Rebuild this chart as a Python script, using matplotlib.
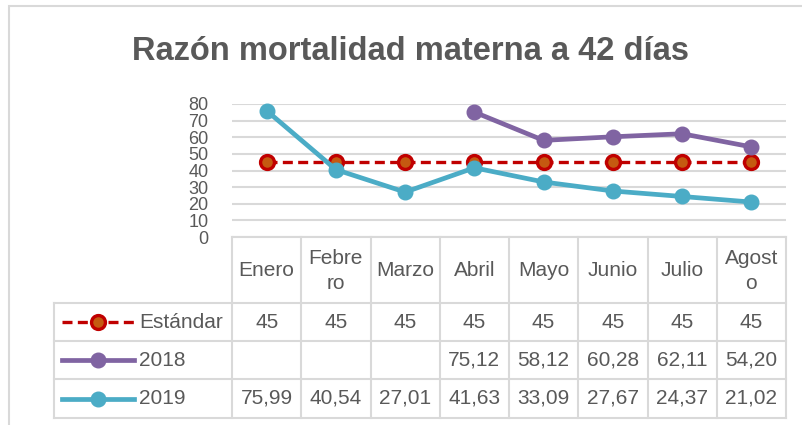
import matplotlib.pyplot as plt
import numpy as np
from matplotlib.lines import Line2D
from matplotlib.patches import Rectangle

plt.rcParams['font.family'] = ['Liberation Sans', 'DejaVu Sans']

months = ["Enero", "Febrero", "Marzo", "Abril", "Mayo", "Junio", "Julio", "Agosto"]
month_labels = ["Enero", "Febre\nro", "Marzo", "Abril", "Mayo", "Junio", "Julio", "Agost\no"]
estandar = [45, 45, 45, 45, 45, 45, 45, 45]
serie_2018 = [np.nan, np.nan, np.nan, 75.12, 58.12, 60.28, 62.11, 54.20]
serie_2019 = [75.99, 40.54, 27.01, 41.63, 33.09, 27.67, 24.37, 21.02]
y_ticks = [0, 10, 20, 30, 40, 50, 60, 70, 80]

txt = "#595959"
grid = "#d9d9d9"
W, H = 803, 425

def fx(px):
    return px / W

def fy(py):
    return 1 - py / H

fig = plt.figure(figsize=(W / 100, H / 100), dpi=100)

# chart frame (only top and left edges are visible in the crop)
fig.patches.append(Rectangle((fx(9), fy(440)), 1, fy(6) - fy(440), transform=fig.transFigure,
                             fill=False, edgecolor=grid, linewidth=1.5))

fig.text(fx(410), fy(51), "Razón mortalidad materna a 42 días", ha="center", va="center",
         fontsize=23.5, fontweight="bold", color=txt)

styles = {
    "Estándar": dict(color="#c00000", linestyle=(0, (3, 1.6)), linewidth=2.4, marker="o",
                     markersize=10, markerfacecolor="#c55a11", markeredgecolor="#c00000",
                     markeredgewidth=2.4),
    "2018": dict(color="#8064a2", linewidth=3.4, marker="o", markersize=10.5),
    "2019": dict(color="#4bacc6", linewidth=3.4, marker="o", markersize=10.5),
}
series = {"Estándar": estandar, "2018": serie_2018, "2019": serie_2019}

x = np.arange(len(months))
ax = fig.add_axes([fx(232), fy(237), fx(786) - fx(232), fy(104) - fy(237)])
for name in ["Estándar", "2018", "2019"]:
    ax.plot(x, series[name], **styles[name], clip_on=False, zorder=3)
ax.set_xlim(-0.5, len(months) - 0.5)
ax.set_ylim(0, 80)
ax.set_yticks(y_ticks)
ax.set_xticks([])
ax.yaxis.grid(True, color=grid, linewidth=1.5)
ax.set_axisbelow(True)
for s in ax.spines.values():
    s.set_visible(False)
ax.tick_params(axis="y", length=0, labelsize=13, labelcolor=txt, pad=17)

# data table below the plot
col_w = (786 - 232) / len(months)
left_units = (232 - 54) / col_w
tax = fig.add_axes([fx(54), fy(418), fx(786) - fx(54), fy(237) - fy(418)])
tax.set_xlim(-0.5 - left_units, len(months) - 0.5)
tax.set_ylim(418, 237)
tax.axis("off")
rows = [237, 303, 341, 379, 418]
x0 = -0.5 - left_units
xe = len(months) - 0.5
for r in rows[1:]:
    tax.plot([x0, xe], [r, r], color=grid, lw=1.5, clip_on=False)
tax.plot([-0.5, xe], [rows[0], rows[0]], color=grid, lw=1.5, clip_on=False)
tax.plot([x0, x0], [rows[1], rows[-1]], color=grid, lw=1.5, clip_on=False)
for i in range(len(months) + 1):
    tax.plot([i - 0.5, i - 0.5], [rows[0], rows[-1]], color=grid, lw=1.5, clip_on=False)

for i, lab in enumerate(month_labels):
    tax.text(i, (rows[0] + rows[1]) / 2 + 1, lab, ha="center", va="center", fontsize=15,
             color=txt, linespacing=1.45)

fmt = {
    "Estándar": lambda v: f"{v:g}",
    "2018": lambda v: "" if np.isnan(v) else f"{v:.2f}".replace(".", ","),
    "2019": lambda v: f"{v:.2f}".replace(".", ","),
}
px_unit = 1 / col_w
for k, name in enumerate(["Estándar", "2018", "2019"]):
    yc = (rows[k + 1] + rows[k + 2]) / 2
    for i, v in enumerate(series[name]):
        tax.text(i, yc, fmt[name](v), ha="center", va="center", fontsize=15, color=txt)
    sx = x0 + (62 - 54) * px_unit
    ex = x0 + (134 - 54) * px_unit
    st = dict(styles[name])
    tax.add_line(Line2D([sx, ex], [yc, yc], **{k2: v2 for k2, v2 in st.items() if k2 != "marker"}))
    tax.add_line(Line2D([(sx + ex) / 2], [yc], **st))
    tax.text(x0 + (139 - 54) * px_unit, yc, name, ha="left", va="center", fontsize=15, color=txt)

fig.savefig("out.png", dpi=100)
